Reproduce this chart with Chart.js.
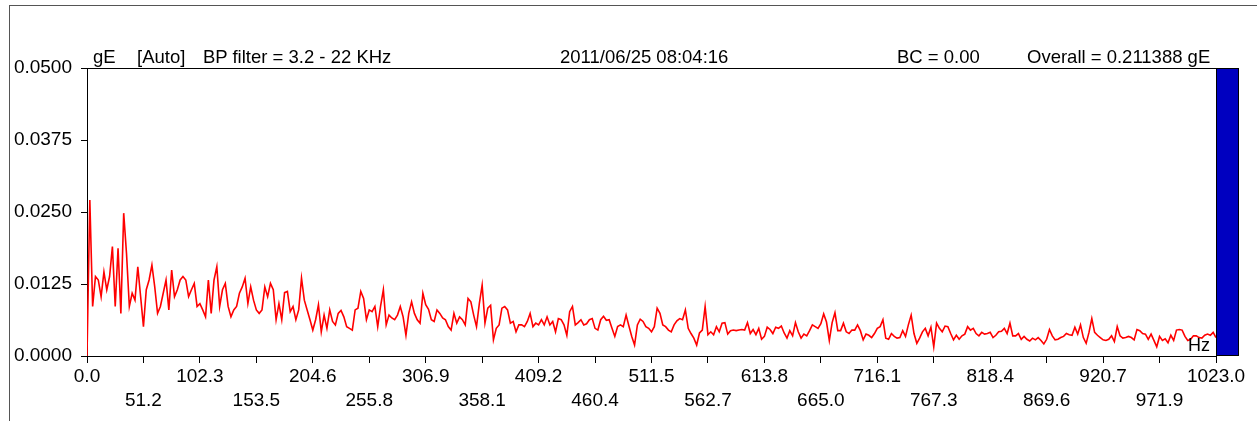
<!DOCTYPE html>
<html>
<head>
<meta charset="utf-8">
<script src="https://cdn.jsdelivr.net/npm/chart.js@4.4.1/dist/chart.umd.min.js"></script>
<style>
  html, body { margin: 0; padding: 0; background: #fff; }
  #wrap { position: relative; width: 1257px; height: 421px; overflow: hidden; }
  #frame { position: absolute; left: 9px; top: 5px; width: 1300px; height: 500px;
           border-top: 1px solid #555; border-left: 1px solid #555; }
  canvas { position: absolute; left: 0; top: 0; }
  .hdr { position: absolute; top: 46px; font: 18.5px "Liberation Sans", Arial, sans-serif;
         color: #000; white-space: pre; }
</style>
</head>
<body>
<div id="wrap">
  <div id="frame"></div>
  <canvas id="graphic" width="1257" height="421"></canvas>
  <span class="hdr" style="left:93px">gE</span>
  <span class="hdr" style="left:137px">[Auto]</span>
  <span class="hdr" style="left:203px">BP filter = 3.2 - 22 KHz</span>
  <span class="hdr" style="left:560px">2011/06/25 08:04:16</span>
  <span class="hdr" style="left:897px">BC = 0.00</span>
  <span class="hdr" style="left:1027px">Overall = 0.211388 gE</span>
  <span class="hdr" style="left:1188px; top:335px; font-size:18px">Hz</span>
</div>
<script>
// spectrum, 400 lines over 0 - 1023 Hz, amplitude in gE
const maxHz = 1023;
const lines = 400;
const overall = 0.211388;

const amplitude = [
    0, 0.0271, 0.0086, 0.0138, 0.0132, 0.0103, 0.0146, 0.0115, 0.0138, 0.0190,
    0.0086, 0.0187, 0.0074, 0.0248, 0.0178, 0.0086, 0.0109, 0.0097, 0.0155, 0.0103,
    0.0051, 0.0115, 0.0132, 0.0158, 0.0120, 0.0074, 0.0086, 0.0109, 0.0132, 0.0080,
    0.0149, 0.0103, 0.0115, 0.0132, 0.0138, 0.0132, 0.0103, 0.0115, 0.0126, 0.0086,
    0.0091, 0.0080, 0.0068, 0.0132, 0.0074, 0.0132, 0.0155, 0.0086, 0.0115, 0.0126,
    0.0086, 0.0068, 0.0080, 0.0086, 0.0109, 0.0120, 0.0135, 0.0091, 0.0120, 0.0097,
    0.0080, 0.0074, 0.0080, 0.0120, 0.0103, 0.0126, 0.0115, 0.0063, 0.0091,
    0.0063, 0.0110, 0.0112, 0.0077, 0.0086, 0.0063, 0.0080, 0.0135, 0.0097, 0.0080,
    0.0063, 0.0045, 0.0063, 0.0089, 0.0042, 0.0071, 0.0048, 0.0080, 0.0060, 0.0054,
    0.0074, 0.0079, 0.0068, 0.0051, 0.0048, 0.0045, 0.0080, 0.0083, 0.0112, 0.0100,
    0.0063, 0.0080, 0.0077, 0.0086, 0.0051, 0.0086, 0.0115, 0.0054, 0.0071, 0.0066,
    0.0063, 0.0071, 0.0086, 0.0068, 0.0036, 0.0074, 0.0094, 0.0074, 0.0063, 0.0057,
    0.0109, 0.0089, 0.0081, 0.0063, 0.0060, 0.0080, 0.0074, 0.0066, 0.0063, 0.0051,
    0.0045, 0.0074, 0.0057, 0.0068, 0.0063, 0.0054, 0.0100, 0.0094,
    0.0071, 0.0051, 0.0091, 0.0123, 0.0057, 0.0083, 0.0088, 0.0028, 0.0048, 0.0054,
    0.0083, 0.0086, 0.0080, 0.0057, 0.0060, 0.0042, 0.0054, 0.0054, 0.0051, 0.0060,
    0.0074, 0.0051, 0.0057, 0.0054, 0.0063, 0.0054, 0.0068, 0.0054, 0.0060, 0.0042,
    0.0065, 0.0063, 0.0054, 0.0036, 0.0077, 0.0086, 0.0054, 0.0058, 0.0063, 0.0054,
    0.0056, 0.0063, 0.0065, 0.0048, 0.0045, 0.0063, 0.0069, 0.0062, 0.0063, 0.0048,
    0.0034, 0.0051, 0.0054, 0.0051, 0.0071, 0.0052, 0.0034, 0.0019, 0.0054, 0.0064,
    0.0060, 0.0051, 0.0048, 0.0042, 0.0051, 0.0083, 0.0074,
    0.0054, 0.0051, 0.0045, 0.0042, 0.0054, 0.0061, 0.0065, 0.0063, 0.0080, 0.0048,
    0.0039, 0.0031, 0.0019, 0.0040, 0.0045, 0.0086, 0.0037, 0.0042, 0.0037, 0.0051,
    0.0042, 0.0057, 0.0058, 0.0038, 0.0044, 0.0045, 0.0044, 0.0045, 0.0046, 0.0045,
    0.0058, 0.0039, 0.0046, 0.0037, 0.0048, 0.0029, 0.0034, 0.0050, 0.0046, 0.0039,
    0.0050, 0.0048, 0.0052, 0.0040, 0.0031, 0.0044, 0.0035, 0.0058, 0.0042, 0.0031,
    0.0038, 0.0035, 0.0044, 0.0054, 0.0051, 0.0048, 0.0056, 0.0073, 0.0059, 0.0027,
    0.0058, 0.0075, 0.0044, 0.0044, 0.0057, 0.0042, 0.0039,
    0.0045, 0.0045, 0.0054, 0.0044, 0.0028, 0.0038, 0.0036, 0.0032, 0.0039, 0.0048,
    0.0051, 0.0063, 0.0031, 0.0029, 0.0039, 0.0034, 0.0031, 0.0032, 0.0044, 0.0034,
    0.0054, 0.0071, 0.0039, 0.0022, 0.0031, 0.0042, 0.0048, 0.0035, 0.0050, 0.0016,
    0.0057, 0.0048, 0.0042, 0.0052, 0.0051, 0.0039, 0.0028, 0.0036, 0.0029, 0.0035,
    0.0038, 0.0051, 0.0045, 0.0048, 0.0039, 0.0035, 0.0041, 0.0038, 0.0039, 0.0041,
    0.0032, 0.0036, 0.0042, 0.0043, 0.0048, 0.0039, 0.0057, 0.0035, 0.0035, 0.0039,
    0.0029, 0.0034, 0.0029, 0.0026, 0.0031, 0.0028, 0.0032,
    0.0027, 0.0021, 0.0029, 0.0046, 0.0035, 0.0028, 0.0029, 0.0032, 0.0034, 0.0039,
    0.0037, 0.0036, 0.0050, 0.0038, 0.0054, 0.0032, 0.0022, 0.0041, 0.0065, 0.0041,
    0.0036, 0.0032, 0.0028, 0.0027, 0.0029, 0.0035, 0.0025, 0.0051, 0.0035, 0.0031,
    0.0032, 0.0034, 0.0032, 0.0028, 0.0046, 0.0044, 0.0039, 0.0038, 0.0029, 0.0038,
    0.0027, 0.0016, 0.0034, 0.0027, 0.0030, 0.0023, 0.0036, 0.0027, 0.0045, 0.0046,
    0.0045, 0.0034, 0.0027, 0.0029, 0.0035, 0.0035, 0.0032, 0.0031, 0.0036, 0.0038,
    0.0036, 0.0041, 0.0032
];

const xTickValues = [0, 51.15, 102.3, 153.45, 204.6, 255.75, 306.9, 358.05, 409.2, 460.35,
    511.5, 562.65, 613.8, 664.95, 716.1, 767.25, 818.4, 869.55, 920.7, 971.85, 1023];
const xTickLabels = ['0.0', '51.2', '102.3', '153.5', '204.6', '255.8', '306.9', '358.1', '409.2', '460.4',
    '511.5', '562.7', '613.8', '665.0', '716.1', '767.3', '818.4', '869.6', '920.7', '971.9', '1023.0'];
const yTickValues = [0, 0.0125, 0.025, 0.0375, 0.05];
const yTickLabels = ['0.0000', '0.0125', '0.0250', '0.0375', '0.0500'];

const points = amplitude.map((v, i) => ({ x: i * maxHz / lines, y: v }));

const tickFont = { family: 'Liberation Sans', size: 19, lineHeight: 1.25 };

// blue overall level bar at the right plus the plot's top border
const overallBar = {
    id: 'overallBar',
    afterDraw(chart) {
        const { ctx, chartArea: a, scales } = chart;
        const barW = 22;
        const top = Math.round(scales.y.getPixelForValue(Math.min(overall, scales.y.max)));
        ctx.save();
        ctx.fillStyle = '#0000c0';
        ctx.fillRect(a.right, top, barW, a.bottom - top);
        ctx.strokeStyle = '#000';
        ctx.lineWidth = 1;
        ctx.strokeRect(Math.round(a.right) + 0.5, top + 0.5, barW, Math.round(a.bottom - top) - 1);
        ctx.beginPath();
        ctx.moveTo(a.left, Math.round(a.top) + 0.5);
        ctx.lineTo(a.right + barW + 1, Math.round(a.top) + 0.5);
        ctx.stroke();
        ctx.restore();
    }
};

new Chart(document.getElementById('graphic'), {
    type: 'line',
    data: {
        datasets: [{
            data: points,
            borderColor: '#ff0000',
            borderWidth: 1.6,
            pointRadius: 0,
            tension: 0
        }]
    },
    options: {
        responsive: false,
        animation: false,
        layout: { padding: { left: 10, top: 68, right: 41, bottom: 0 } },
        scales: {
            x: {
                type: 'linear',
                min: 0,
                max: maxHz,
                afterBuildTicks: (scale) => { scale.ticks = xTickValues.map(v => ({ value: v })); },
                afterFit: (scale) => { scale.height = 65; },
                ticks: {
                    autoSkip: false,
                    maxRotation: 0,
                    padding: 2,
                    color: '#000',
                    font: tickFont,
                    callback: (value, index) => index % 2 === 0 ? [xTickLabels[index], ''] : ['', xTickLabels[index]]
                },
                grid: { drawOnChartArea: false, tickLength: 7, color: '#000' },
                border: { color: '#000', width: 1 }
            },
            y: {
                min: 0,
                max: 0.05,
                afterBuildTicks: (scale) => { scale.ticks = yTickValues.map(v => ({ value: v })); },
                afterFit: (scale) => { scale.width = 77; },
                ticks: {
                    padding: 9,
                    color: '#000',
                    font: tickFont,
                    callback: (value, index) => yTickLabels[index]
                },
                grid: { drawOnChartArea: false, tickLength: 6, color: '#000' },
                border: { color: '#000', width: 1 }
            }
        },
        plugins: {
            legend: { display: false },
            tooltip: { enabled: false }
        }
    },
    plugins: [overallBar]
});
</script>
</body>
</html>
